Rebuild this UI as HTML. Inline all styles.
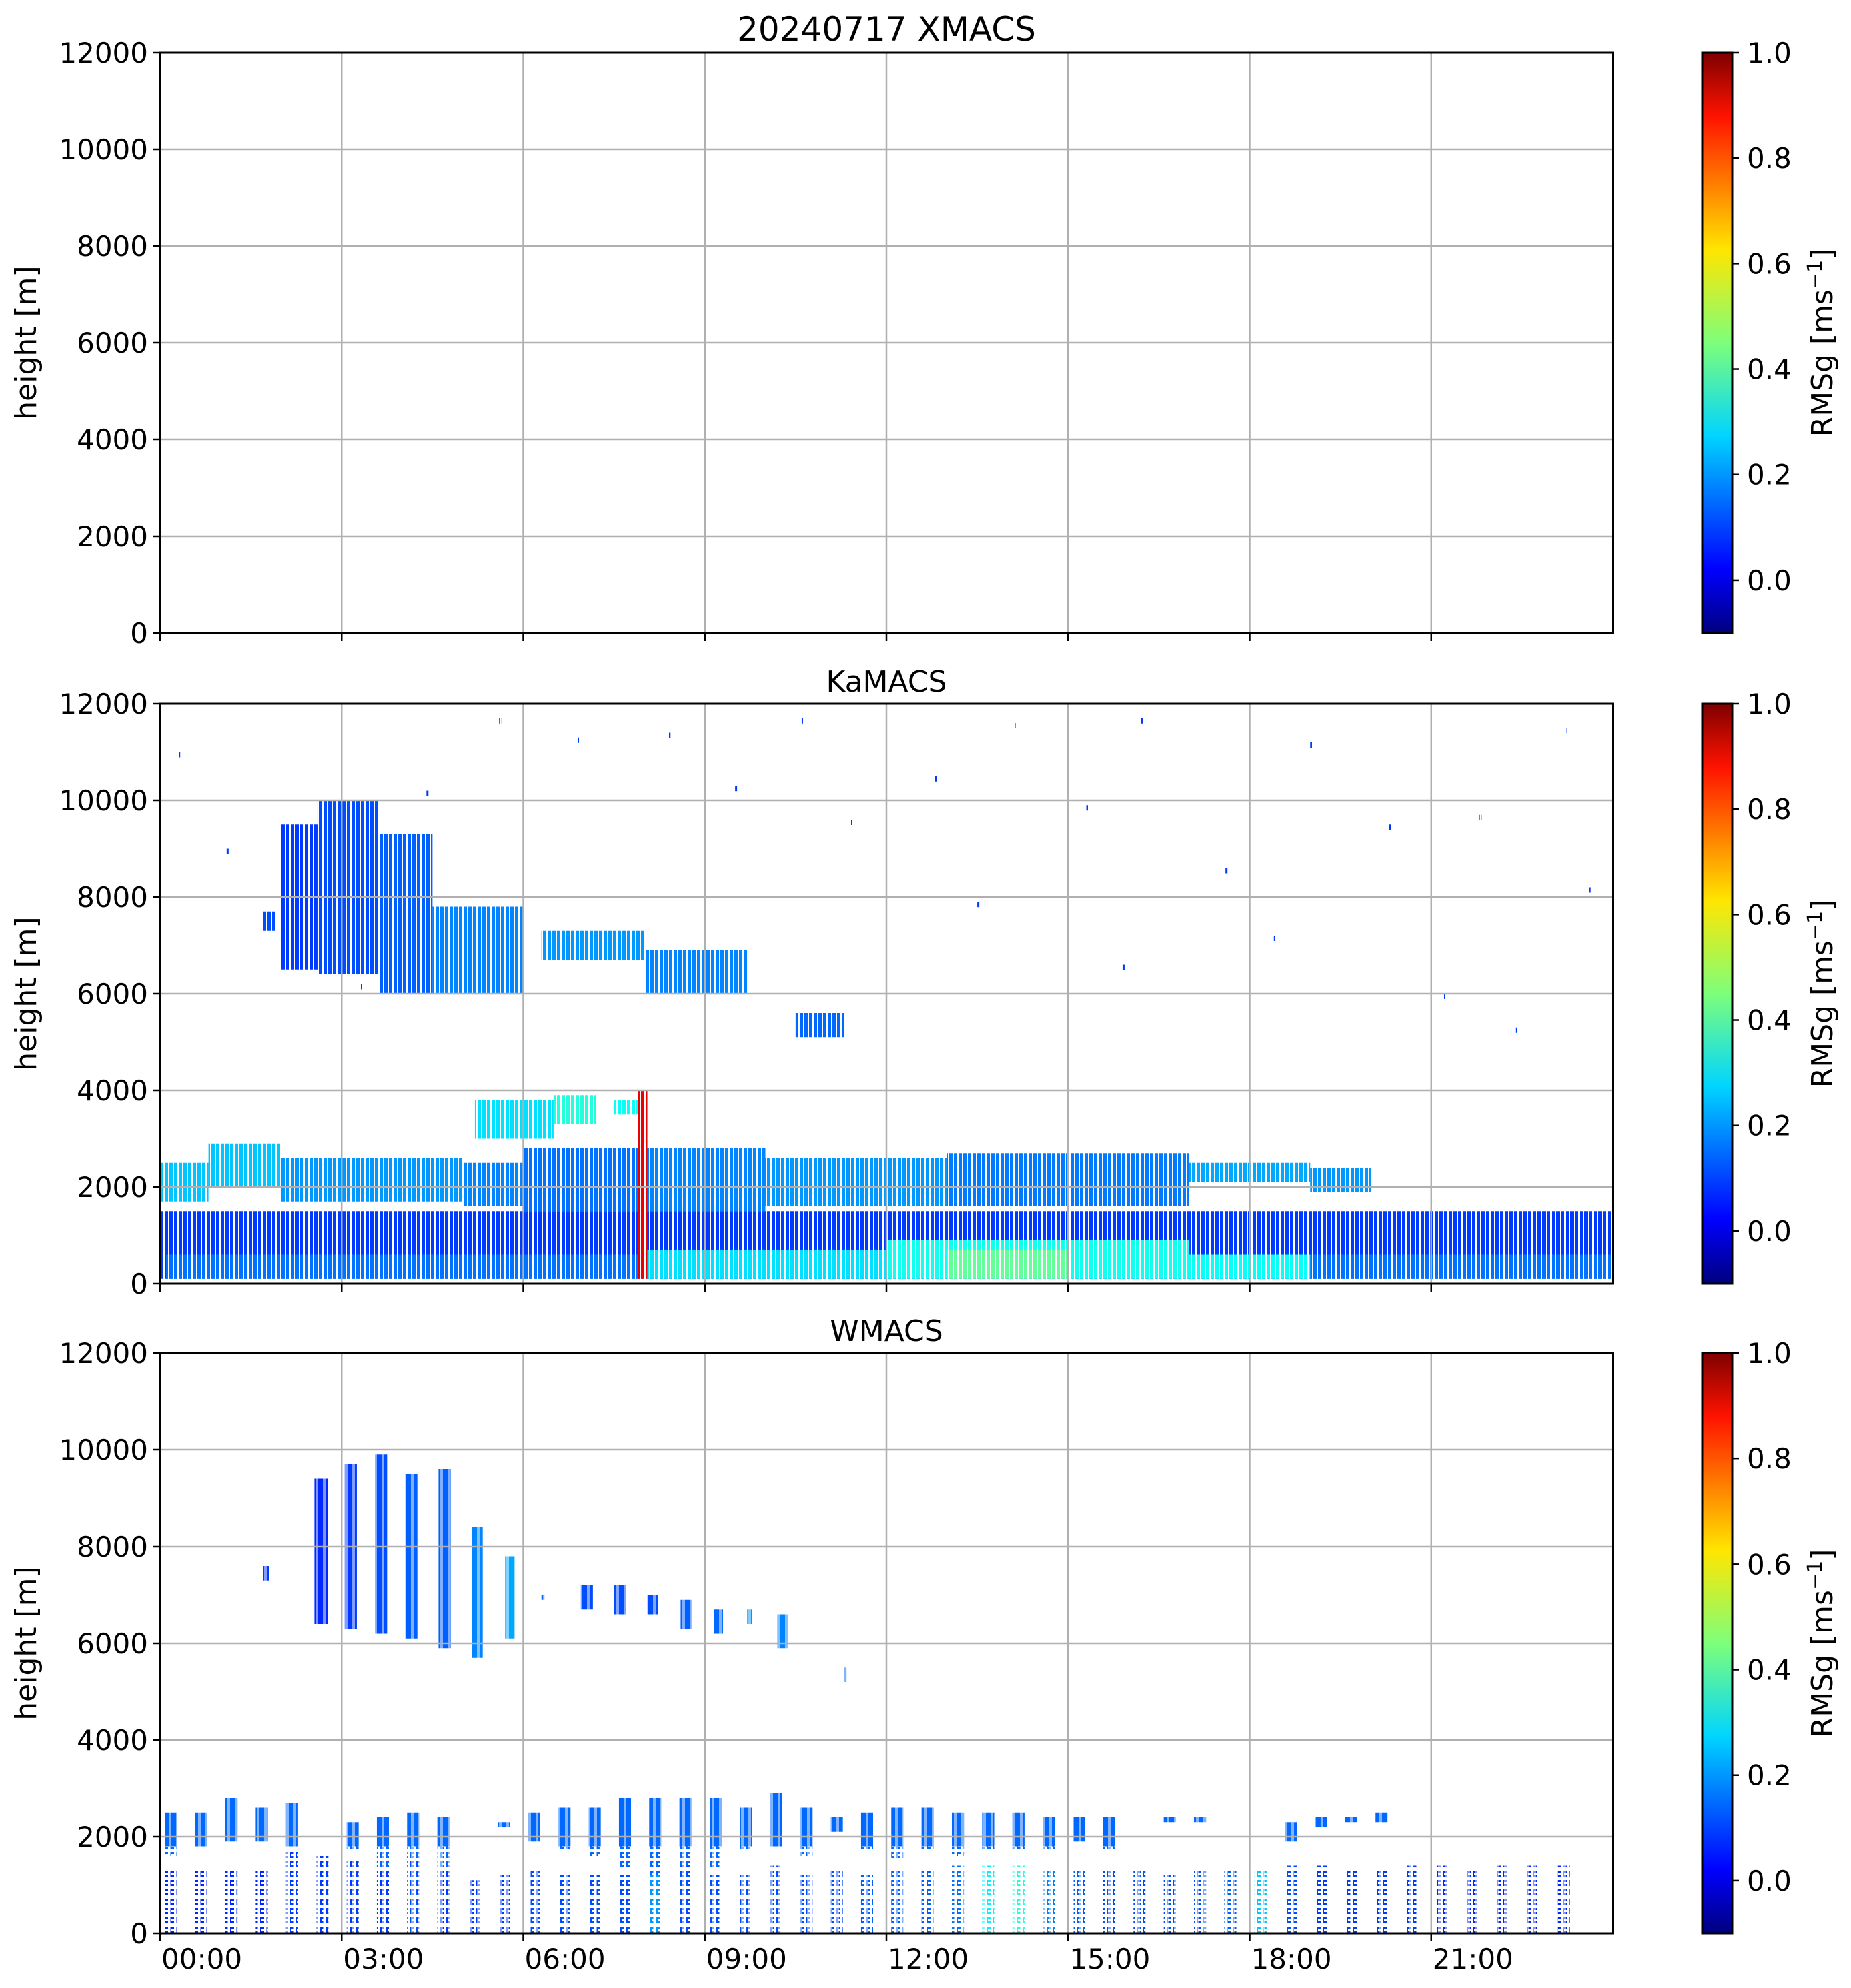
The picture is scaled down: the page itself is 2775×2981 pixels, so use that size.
<!DOCTYPE html>
<html><head><meta charset="utf-8"><style>
html,body{margin:0;padding:0;background:#fff}
svg{display:block;font-family:"DejaVu Sans","Liberation Sans",sans-serif}
</style></head><body>
<svg id="fig" xmlns="http://www.w3.org/2000/svg" width="2775" height="2981" viewBox="0 0 2775 2981">
<defs>
<pattern id="stripes" patternUnits="userSpaceOnUse" width="7" height="10"><rect x="0" y="0" width="2" height="10" fill="#fff"/></pattern>
<pattern id="stripes2" patternUnits="userSpaceOnUse" width="11" height="10"><rect x="0" y="0" width="4" height="10" fill="#fff"/></pattern>
<pattern id="dots" patternUnits="userSpaceOnUse" width="9" height="14"><rect x="0" y="0" width="3" height="14" fill="#fff"/><rect x="3" y="0" width="6" height="5" fill="#fff"/><rect x="5" y="8" width="4" height="3" fill="#fff"/></pattern>
<linearGradient id="jetgrad" x1="0" y1="1" x2="0" y2="0">
<stop offset="0" stop-color="#00007f"/><stop offset="0.11" stop-color="#0000ff"/><stop offset="0.34" stop-color="#00d5ff"/><stop offset="0.5" stop-color="#7dff7a"/><stop offset="0.66" stop-color="#ffe600"/><stop offset="0.89" stop-color="#ff1300"/><stop offset="1" stop-color="#7f0000"/>
</linearGradient>
</defs>
</svg>
<script>
// ---- data ----
const panelTitles = ["20240717 XMACS","KaMACS","WMACS"];
const yTicks = [0,2000,4000,6000,8000,10000,12000];
const xTickHours = [0,3,6,9,12,15,18,21];
const xTickLabels = ["00:00","03:00","06:00","09:00","12:00","15:00","18:00","21:00"];
const cbTicks = [0.0,0.2,0.4,0.6,0.8,1.0];
// KaMACS blocks: [t0 h, t1 h, base m, top m, RMSg]
const kaT0 =   [2.0,2.6,3.6,4.5,1.7,6.3,8.0,10.5, 0,0.8,2.0,5.0,6.0,8.0,10.0,13.0,17.0,19.0, 5.2,6.5,7.5, 0,0.1,8.0,12.0,13.0,17.0, 7.9];
const kaT1 =   [2.6,3.6,4.5,6.0,1.9,8.0,9.7,11.3, 0.8,2.0,5.0,6.0,8.0,10.0,13.0,17.0,19.0,20.0, 6.5,7.2,8.0, 24,24,12.0,17.0,15.0,19.0, 8.05];
const kaBase = [6500,6400,6000,6000,7300,6700,6000,5100, 1700,2000,1700,1600,1500,1500,1600,1600,2100,1900, 3000,3300,3500, 100,100,100,100,100,100, 100];
const kaTop =  [9500,10000,9300,7800,7700,7300,6900,5600, 2500,2900,2600,2500,2800,2800,2600,2700,2500,2400, 3800,3900,3800, 1500,600,700,900,700,600, 4000];
const kaVal =  [0.10,0.12,0.14,0.18,0.12,0.20,0.18,0.15, 0.25,0.25,0.20,0.18,0.16,0.18,0.20,0.17,0.22,0.20, 0.28,0.35,0.32, 0.10,0.16,0.28,0.33,0.42,0.32, 0.88];
// KaMACS isolated specks: hour, height
const kaSpeckT = [0.3,1.1,2.9,4.4,5.6,6.9,8.4,9.5,11.4,12.8,14.1,15.3,16.2,17.6,19.0,20.3,21.8,23.2,23.6,13.5,15.9,18.4,21.2,10.6,3.3,22.4];
const kaSpeckZ = [11000,9000,11500,10200,11700,11300,11400,10300,9600,10500,11600,9900,11700,8600,11200,9500,9700,11500,8200,7900,6600,7200,6000,11700,6200,5300];
// WMACS upper bars
const wUpT = [1.7,2.55,3.05,3.55,4.05,4.6,5.15,5.7,6.3,6.95,7.5,8.05,8.6,9.15,9.7,10.2,11.3];
const wUpW = [0.1,0.22,0.2,0.2,0.2,0.2,0.18,0.16,0.05,0.2,0.2,0.18,0.18,0.15,0.08,0.18,0.04];
const wUpBase = [7300,6400,6300,6200,6100,5900,5700,6100,6900,6700,6600,6600,6300,6200,6400,5900,5200];
const wUpTop = [7600,9400,9700,9900,9500,9600,8400,7800,7000,7200,7200,7000,6900,6700,6700,6600,5500];
const wUpVal = [0.10,0.08,0.10,0.12,0.14,0.14,0.18,0.22,0.15,0.12,0.12,0.12,0.14,0.15,0.20,0.18,0.15];
// WMACS lower bars (every ~0.5 h): start hour, top of ~2 km band, top of BL column, value
const wLoT = [0.0,0.5,1.0,1.5,2.0,2.5,3.0,3.5,4.0,4.5,5.0,5.5,6.0,6.5,7.0,7.5,8.0,8.5,9.0,9.5,10.0,10.5,11.0,11.5,12.0,12.5,13.0,13.5,14.0,14.5,15.0,15.5,16.0,16.5,17.0,17.5,18.0,18.5,19.0,19.5,20.0,20.5,21.0,21.5,22.0,22.5,23.0];
const wBandTop = [2500,2500,2800,2600,2700,0,2300,2400,2500,2400,0,2300,2500,2600,2600,2800,2800,2800,2800,2600,2900,2600,2400,2500,2600,2600,2500,2500,2500,2400,2400,2400,0,2400,2400,0,0,2300,2400,2400,2500,0,0,0,0,0,0];
const wBandBase = [1600,1800,1900,1900,1800,0,1700,1300,1500,1300,0,2200,1900,1700,1600,1300,1200,1400,1300,1700,1800,1600,2100,1700,1500,1700,1600,1700,1700,1700,1900,1700,0,2300,2300,0,0,1900,2200,2300,2300,0,0,0,0,0,0];
const wColTop = [1300,1300,1300,1300,1700,1600,1500,1600,1600,1300,1100,1200,1300,1200,1200,1200,1200,1400,1200,1200,1400,1200,1300,1200,1300,1300,1400,1400,1400,1300,1300,1300,1300,1200,1300,1300,1300,1400,1400,1300,1300,1400,1400,1300,1400,1400,1400];
const wColVal = [0.08,0.08,0.08,0.08,0.10,0.10,0.10,0.10,0.12,0.10,0.10,0.10,0.12,0.12,0.12,0.12,0.20,0.12,0.12,0.12,0.12,0.12,0.12,0.14,0.14,0.14,0.16,0.30,0.35,0.18,0.14,0.12,0.12,0.12,0.12,0.14,0.25,0.12,0.10,0.10,0.10,0.10,0.08,0.08,0.08,0.08,0.08];

// ---- layout ----
const SVGNS="http://www.w3.org/2000/svg";
const svg=document.getElementById('fig');
const AX_L=240, AX_R=2418, AX_H=870;
const panelTops=[79,1055,2029];
const CB_L=2552, CB_R=2597, VMIN=-0.1, VMAX=1.0;
function xs(h){return AX_L+(AX_R-AX_L)*h/24;}
function ys(z,p){return panelTops[p]+AX_H-(z/12000)*AX_H;}
function cs(v,p){return panelTops[p]+AX_H-(v-VMIN)/(VMAX-VMIN)*AX_H;}
function jet(v){
  let t=(v-VMIN)/(VMAX-VMIN);t=Math.max(0,Math.min(1,t));
  const f=(a)=>Math.max(0,Math.min(1,1.5-Math.abs(4*t-a)));
  const r=f(3),g=f(2),b=f(1);
  return `rgb(${Math.round(r*255)},${Math.round(g*255)},${Math.round(b*255)})`;
}
function el(tag,attrs,parent){const e=document.createElementNS(SVGNS,tag);for(const k in attrs)e.setAttribute(k,attrs[k]);(parent||svg).appendChild(e);return e;}
function txt(s,attrs,parent){const e=el('text',attrs,parent);e.textContent=s;return e;}

for(let p=0;p<3;p++){
  const top=panelTops[p], bot=top+AX_H;
  const g=el('g',{});
  
  
  const data=el('g',{},g);
  
  
  if(p===1){
    for(let i=0;i<kaT0.length;i++){
      const r=el('rect',{x:xs(kaT0[i]),y:ys(kaTop[i],p),width:xs(kaT1[i])-xs(kaT0[i]),height:ys(kaBase[i],p)-ys(kaTop[i],p),fill:jet(kaVal[i])},data);
      
      
    }
    for(let i=0;i<kaSpeckT.length;i++){
      const r=el('rect',{x:xs(kaSpeckT[i]),y:ys(kaSpeckZ[i],p),width:3,height:8,fill:jet(0.1)},data);
      
      
    }
    el('rect',{x:AX_L,y:top,width:AX_R-AX_L,height:AX_H,fill:'url(#stripes)'},data);
  }
  if(p===2){
    for(let i=0;i<wUpT.length;i++){
      const r=el('rect',{x:xs(wUpT[i]),y:ys(wUpTop[i],p),width:xs(wUpW[i])-xs(0),height:ys(wUpBase[i],p)-ys(wUpTop[i],p),fill:jet(wUpVal[i])},data);
      
      
    }
    for(let i=0;i<wLoT.length;i++){
      const x0=xs(wLoT[i]+0.08), w=xs(0.2)-xs(0);
      const c=el('rect',{x:x0,y:ys(wColTop[i],p),width:w,height:ys(0,p)-ys(wColTop[i],p),fill:jet(wColVal[i])},data);
      
      
      if(wBandTop[i]>0){
        const b=el('rect',{x:x0,y:ys(wBandTop[i],p),width:w,height:ys(wBandBase[i],p)-ys(wBandTop[i],p),fill:jet(0.15)},data);
        
        
      }
    }
    el('rect',{x:AX_L,y:ys(1800,p),width:AX_R-AX_L,height:ys(0,p)-ys(1800,p),fill:'url(#dots)'},data);
    el('rect',{x:AX_L,y:top,width:AX_R-AX_L,height:AX_H,fill:'url(#stripes2)',opacity:0.5},data);
  }
  // grid
  for(const h of xTickHours){ if(h===0) continue;
    el('line',{x1:xs(h),x2:xs(h),y1:top,y2:bot,stroke:'#b0b0b0','stroke-width':2.5},g);}
  for(const z of yTicks){
    el('line',{x1:AX_L,x2:AX_R,y1:ys(z,p),y2:ys(z,p),stroke:'#b0b0b0','stroke-width':2.5},g);
    el('line',{x1:AX_L-10,x2:AX_L,y1:ys(z,p),y2:ys(z,p),stroke:'#000','stroke-width':2.5},g);
    const t=txt(String(z),{x:AX_L-18,y:ys(z,p)+15,'font-size':42,'text-anchor':'end'},g);
    
    
  }
  for(let i=0;i<xTickHours.length;i++){
    el('line',{x1:xs(xTickHours[i]),x2:xs(xTickHours[i]),y1:bot,y2:bot+12,stroke:'#000','stroke-width':2.5},g);
    if(p===2){
      const t=txt(xTickLabels[i],{x:xs(xTickHours[i])+2,y:2952,'font-size':42},g);
      
      
    }
  }
  const fr=el('rect',{x:AX_L,y:top,width:AX_R-AX_L,height:AX_H,fill:'none',stroke:'#000','stroke-width':3},g);
  
  
  const tt=txt(panelTitles[p],{x:(AX_L+AX_R)/2,y:top-18,'font-size':p===0?50:44,'text-anchor':'middle'},g);
  
  
  const yl=txt('height [m]',{x:0,y:0,'font-size':44,'text-anchor':'middle',transform:`translate(54,${top+AX_H/2}) rotate(-90)`},g);
  
  
  // colorbar
  const cb=el('g',{},g);
  
  
  el('rect',{x:CB_L,y:top,width:CB_R-CB_L,height:AX_H,fill:'url(#jetgrad)',stroke:'#000','stroke-width':3},cb);
  for(const v of cbTicks){
    el('line',{x1:CB_R,x2:CB_R+10,y1:cs(v,p),y2:cs(v,p),stroke:'#000','stroke-width':2.5},cb);
    const t=txt(v.toFixed(1),{x:CB_R+22,y:cs(v,p)+15,'font-size':42},cb);
    
    
  }
  const cl=el('text',{x:0,y:0,'font-size':44,'text-anchor':'middle',transform:`translate(2747,${top+AX_H/2}) rotate(-90)`},cb);
  
  
  cl.appendChild(document.createTextNode('RMSg [ms'));
  const sup=document.createElementNS(SVGNS,'tspan');sup.setAttribute('dy','-16');sup.setAttribute('font-size','30');sup.textContent='−1';cl.appendChild(sup);
  const cls=document.createElementNS(SVGNS,'tspan');cls.setAttribute('dy','16');cls.textContent=']';cl.appendChild(cls);
}
</script>
</body></html>
